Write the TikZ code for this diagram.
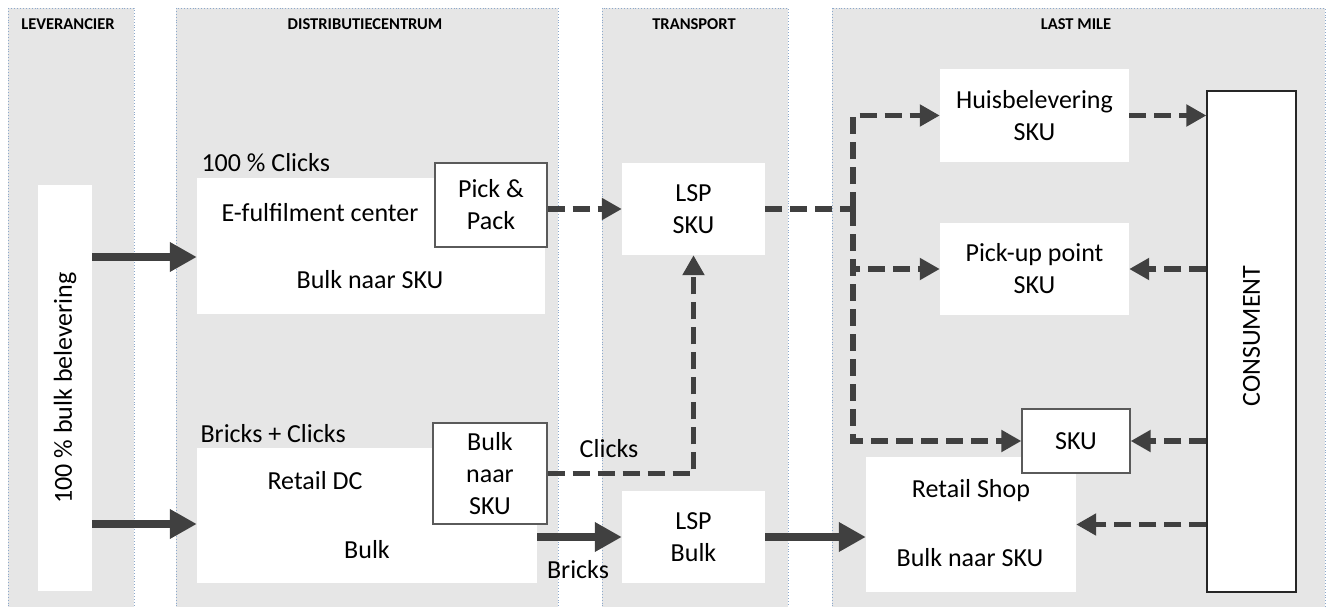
\documentclass[tikz,border=0pt]{standalone}
\usepackage{fontspec}
\setmainfont{Carlito}
\usetikzlibrary{arrows.meta}
\definecolor{lanegray}{HTML}{E6E6E6}
\definecolor{laneline}{HTML}{8DA9CC}
\definecolor{flowgray}{HTML}{404040}
\definecolor{boxline}{HTML}{5A5A5A}

\begin{document}
\begin{tikzpicture}[
        x=1pt, y=-1pt,
        font=\fontsize{26}{32}\selectfont,
        lane/.style = {fill=lanegray, draw=laneline, dotted, line width=0.9pt},
        lanetitle/.style = {font=\fontsize{16.5}{19}\selectfont\bfseries},
        whitebox/.style = {fill=white, inner sep=0pt, align=center},
        framebox/.style = {whitebox, draw=boxline, line width=1.3pt},
        bulkflow/.style = {draw=flowgray, line width=8pt, -{Triangle[length=27pt,width=28pt]}},
        skuline/.style = {draw=flowgray, line width=5.5pt, dash pattern=on 17pt off 8pt},
        skuflow/.style = {skuline, -{Triangle[length=20pt,width=21pt]}}
    ]
        \useasboundingbox (0,0) rectangle (1330,607);

        \draw[lane] (8,8) rectangle (134,612);
        \draw[lane] (176,8) rectangle (558,612);
        \draw[lane] (602,8) rectangle (788,612);
        \draw[lane] (832,8) rectangle (1325,612);

        \node[lanetitle] (levtitle) at (68,24) {LEVERANCIER};
        \node[lanetitle] (dctitle) at (365,24) {DISTRIBUTIECENTRUM};
        \node[lanetitle] (transtitle) at (694,24) {TRANSPORT};
        \node[lanetitle] (lmtitle) at (1076,24) {LAST MILE};

        \node[whitebox, minimum width=54pt, minimum height=406pt] (bulk) at (65,388) {};
        \node[rotate=90] (bulktext) at (65,388) {100 \% bulk belevering};

        \node[anchor=west] (clickstitle) at (198,163) {100 \% Clicks};
        \node[whitebox, minimum width=348pt, minimum height=136pt] (efc) at (371,246) {};
        \node (efctext) at (320,213) {E-fulfilment center};
        \node (efcbulk) at (370,280) {Bulk naar SKU};
        \node[framebox, minimum width=112pt, minimum height=84pt] (pickpack) at (491,205) {Pick \&\\Pack};

        \node[anchor=west] (brickstitle) at (197,434) {Bricks + Clicks};
        \node[whitebox, minimum width=340pt, minimum height=135pt] (retaildc) at (367,515.5) {};
        \node (retailtext) at (315,481) {Retail DC};
        \node (retailbulk) at (367,550) {Bulk};
        \node[framebox, minimum width=114pt, minimum height=101pt] (bulksku) at (490,473.5) {Bulk\\naar\\SKU};

        \node[whitebox, minimum width=143pt, minimum height=92pt] (lspsku) at (693.5,209) {LSP\\SKU};
        \node[whitebox, minimum width=143pt, minimum height=92pt] (lspbulk) at (693.5,537) {LSP\\Bulk};

        \node[whitebox, minimum width=189pt, minimum height=93pt] (huis) at (1034.5,115.5) {Huisbelevering\\SKU};
        \node[whitebox, minimum width=189pt, minimum height=92pt] (pickup) at (1034.5,269) {Pick-up point\\SKU};
        \node[whitebox, minimum width=210pt, minimum height=135pt] (shop) at (971,524.5) {};
        \node (shoptext) at (971,491) {Retail Shop};
        \node (shopbulk) at (970,558) {Bulk naar SKU};
        \node[framebox, minimum width=108pt, minimum height=64pt] (sku) at (1076,441) {SKU};
        \node[whitebox, draw=black!85, line width=1.3pt, minimum width=89pt, minimum height=501pt] (consument) at (1251.5,341.5) {};
        \node[rotate=90] (consumenttext) at (1251.5,336) {CONSUMENT};

        \coordinate (split) at (853,209);

        \draw[bulkflow] (bulk.east |- 0,257) -- (efc.west |- 0,257);
        \draw[bulkflow] (bulk.east |- 0,524) -- (retaildc.west |- 0,524);
        \draw[skuflow] (pickpack.east |- lspsku.west) -- (lspsku.west);
        \draw[skuflow] (bulksku.east) -| (lspsku.south);
        \node (clickslabel) at (609,449) {Clicks};
        \draw[bulkflow] (retaildc.east |- lspbulk.west) -- (lspbulk.west);
        \node (brickslabel) at (578,570) {Bricks};
        \draw[bulkflow] (lspbulk.east) -- (lspbulk.east -| shop.west);

        \draw[skuline] (lspsku.east) -- (split);
        \draw[skuflow] (split) |- (huis.west);
        \draw[skuflow] (split) |- (pickup.west);
        \draw[skuflow] (split) |- (sku.west);
        \draw[skuflow] (huis.east) -- (huis.east -| consument.west);
        \draw[skuflow] (consument.west |- pickup.east) -- (pickup.east);
        \draw[skuflow] (consument.west |- sku.east) -- (sku.east);
        \draw[skuflow] (consument.west |- shop.east) -- (shop.east);
    \end{tikzpicture}
\end{document}
